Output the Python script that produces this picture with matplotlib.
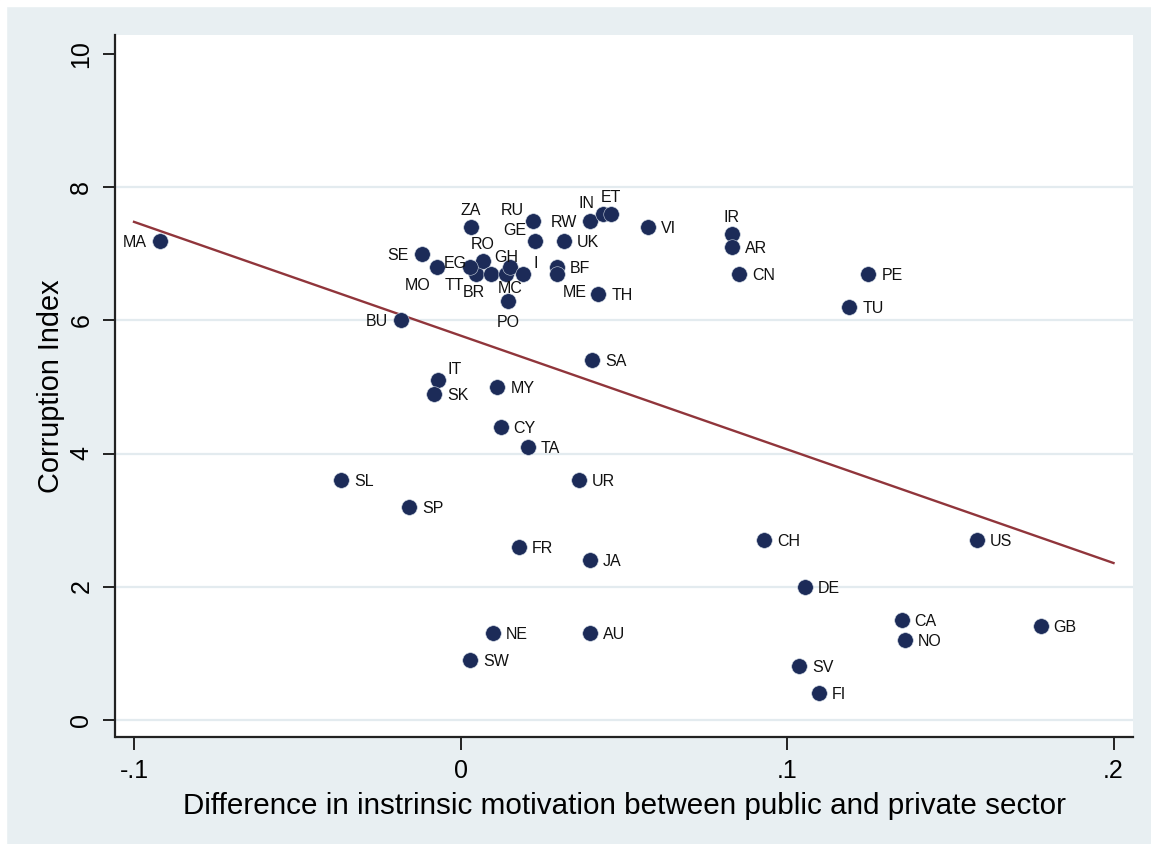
import numpy as np
import matplotlib
matplotlib.use("Agg")
import matplotlib.pyplot as plt
from matplotlib.patches import Rectangle

plt.rcParams['font.family'] = ['Liberation Sans', 'DejaVu Sans']

# Country codes, motivation gap (public minus private) and corruption index
countries = ["MA", "SE", "MO", "BU", "ZA", "EG", "RO", "TT", "BR", "GH",
             "MC", "I", "BF", "ME", "PO", "RU", "GE", "RW", "IN", "ET",
             "UK", "VI", "IR", "AR", "CN", "TH", "PE", "TU", "SA", "IT",
             "SK", "MY", "CY", "TA", "SL", "SP", "UR", "FR", "JA", "NE",
             "SW", "AU", "CH", "US", "DE", "CA", "NO", "GB", "SV", "FI"]
motivation_gap = [-0.0920, -0.0119, -0.0073, -0.0183, 0.0031, 0.0047, 0.0068, 0.0029, 0.0092, 0.0139,
                  0.0152, 0.0192, 0.0295, 0.0295, 0.0146, 0.0221, 0.0228, 0.0397, 0.0437, 0.0460,
                  0.0317, 0.0575, 0.0831, 0.0831, 0.0853, 0.0422, 0.1249, 0.1191, 0.0404, -0.0070,
                  -0.0080, 0.0113, 0.0123, 0.0207, -0.0366, -0.0157, 0.0363, 0.0179, 0.0397, 0.0100,
                  0.0029, 0.0397, 0.0930, 0.1581, 0.1055, 0.1351, 0.1362, 0.1777, 0.1037, 0.1098]
corruption = [7.2, 7.0, 6.8, 6.0, 7.4, 6.7, 6.9, 6.8, 6.7, 6.7,
              6.8, 6.7, 6.8, 6.7, 6.3, 7.5, 7.2, 7.5, 7.6, 7.6,
              7.2, 7.4, 7.3, 7.1, 6.7, 6.4, 6.7, 6.2, 5.4, 5.1,
              4.9, 5.0, 4.4, 4.1, 3.6, 3.2, 3.6, 2.6, 2.4, 1.3,
              0.9, 1.3, 2.7, 2.7, 2.0, 1.5, 1.2, 1.4, 0.8, 0.4]

x_ticks = [-0.1, 0.0, 0.1, 0.2]
x_tick_labels = ["-.1", "0", ".1", ".2"]
y_ticks = [0, 2, 4, 6, 8, 10]
y_tick_labels = ["0", "2", "4", "6", "8", "10"]

# Label clock positions (default 3 o'clock)
label_clock = {"MA": 9, "SE": 9, "BU": 9, "RW": 9, "MO": 7, "TT": 7, "BR": 7,
               "ZA": 12, "RO": 12, "GH": 12, "ET": 12, "IR": 12,
               "MC": 6, "PO": 6, "EG": 11, "RU": 11, "GE": 11, "IN": 11,
               "I": 1, "IT": 1, "ME": 5}
px = 0.72  # points per pixel at 100 dpi
clock_offsets = {
    3: ((13, 0), "left"),
    9: ((-13, 0), "right"),
    12: ((0, 18), "center"),
    6: ((0, -20), "center"),
    11: ((-9, 12), "right"),
    1: ((10, 12), "left"),
    7: ((-6, -17), "right"),
    5: ((6, -17), "left"),
}

bg = "#e8eff2"
grid_c = "#e3ebef"
navy = "#1c2b58"
maroon = "#90353b"

fig = plt.figure(figsize=(11.51, 8.44), dpi=100, facecolor=bg)
# thin white margin on the top and left edges
fig.patches.append(Rectangle((0, 0), 6 / 1151, 1, transform=fig.transFigure, color="white", zorder=0))
fig.patches.append(Rectangle((0, 1 - 6 / 844), 1, 6 / 844, transform=fig.transFigure, color="white", zorder=0))

ax = fig.add_axes([115.5 / 1151, 1 - 737 / 844, (1133 - 115.5) / 1151, (737 - 35) / 844])
ax.set_facecolor("white")
ax.set_xlim(-0.10567, 0.20597)
ax.set_ylim(-0.263, 10.293)

for g in y_ticks[:-1]:
    ax.axhline(g, color=grid_c, lw=1.6, zorder=1)

x = np.array(motivation_gap)
y = np.array(corruption)
slope, intercept = np.polyfit(x, y, 1)
xf = np.array([-0.1, 0.2])
ax.plot(xf, intercept + slope * xf, color=maroon, lw=1.7, zorder=2)

ax.scatter(x, y, s=125, color=navy, edgecolors="#c9d2de", linewidths=0.4, zorder=3)

for c, xi, yi in zip(countries, x, y):
    (dx, dy), ha = clock_offsets[label_clock.get(c, 3)]
    ax.annotate(c, (xi, yi), xytext=(dx * px, dy * px), textcoords="offset points",
                ha=ha, va="center_baseline", fontsize=11.5, color="#111111", zorder=4)

for side in ("top", "right"):
    ax.spines[side].set_visible(False)
for side in ("left", "bottom"):
    ax.spines[side].set_linewidth(1.6)
    ax.spines[side].set_color("#222222")

ax.set_xticks(x_ticks)
ax.set_xticklabels(x_tick_labels)
ax.set_yticks(y_ticks)
ax.set_yticklabels(y_tick_labels, rotation=90, va="center")
ax.tick_params(axis="both", direction="out", length=9, width=1.4, color="#222222",
               labelsize=18, pad=7)

ax.set_xlabel("Difference in instrinsic motivation between public and private sector",
              fontsize=21.3, labelpad=6)
ax.set_ylabel("Corruption Index", fontsize=20.8, labelpad=3)

fig.savefig("out.png", dpi=100, facecolor=bg)
